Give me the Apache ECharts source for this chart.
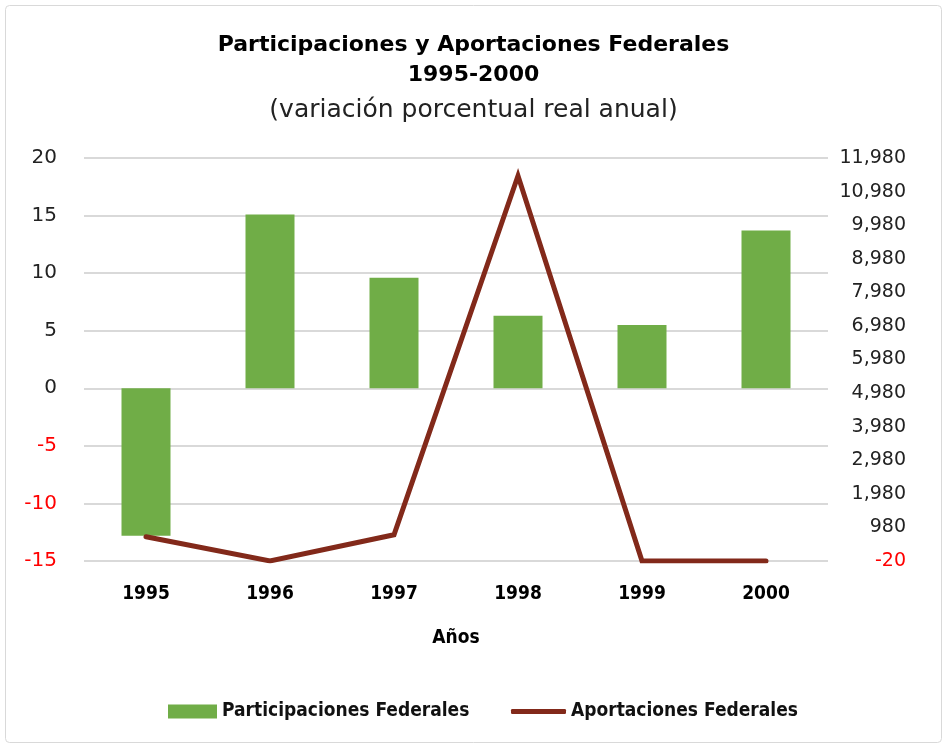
<!DOCTYPE html>
<html><head><meta charset="utf-8">
<script src="https://cdn.jsdelivr.net/npm/echarts@6/dist/echarts.min.js"></script>
<style>html,body{margin:0;padding:0;background:#fff}#c{width:947px;height:749px}</style>
</head><body><div id="c"></div>
<script>
const years = ['1995','1996','1997','1998','1999','2000'];
const participaciones = [-12.8, 15.1, 9.6, 6.3, 5.5, 13.7];
const aportaciones = [700, -20, 760, 11450, -20, -20];
const leftTicks = {min: -15, max: 20, interval: 5};
const rightTicks = {min: -20, max: 11980, interval: 1000};

const chart = echarts.init(document.getElementById('c'));
const fam = '"DejaVu Sans", sans-serif';
const cond = '"DejaVu Sans Condensed", "Liberation Sans Narrow", sans-serif';
const legText = {fontFamily: cond, fontWeight: 'bold', fontSize: 19, color: '#111'};
chart.setOption({
  animation: false,
  backgroundColor: '#fff',
  graphic: [{type:'rect', shape:{x:5.5,y:5.5,width:936,height:737,r:4}, style:{fill:'none', stroke:'#d9d9d9', lineWidth:1}, z:-1}],
  title: [
    {text: 'Participaciones y Aportaciones Federales\n1995-2000', left: 'center', top: 25,
     textStyle: {fontFamily: fam, fontWeight: 'bold', fontSize: 22, lineHeight: 30, color: '#000'}},
    {text: '(variación porcentual real anual)', left: 'center', top: 93,
     textStyle: {fontFamily: fam, fontWeight: 'normal', fontSize: 25, color: '#222'}}
  ],
  legend: [
    {left: 163, top: 697, itemWidth: 49, itemHeight: 14, textStyle: legText,
     data: [{name: 'Participaciones Federales', icon: 'rect'}]},
    {left: 506, top: 697, itemWidth: 55, itemHeight: 5, textStyle: legText,
     data: [{name: 'Aportaciones Federales', icon: 'roundRect'}]}
  ],
  grid: {left: 84, right: 119, top: 158, bottom: 188, containLabel: false},
  xAxis: {
    type: 'category', data: years,
    name: 'Años', nameLocation: 'middle', nameGap: 68,
    nameTextStyle: {fontFamily: cond, fontWeight: 'bold', fontSize: 19, color: '#000'},
    axisLine: {show: false}, axisTick: {show: false},
    axisLabel: {fontFamily: cond, fontWeight: 'bold', fontSize: 19, color: '#000', margin: 24}
  },
  yAxis: [
    {type: 'value', min: leftTicks.min, max: leftTicks.max, interval: leftTicks.interval,
     axisLine: {show: false}, axisTick: {show: false},
     splitLine: {lineStyle: {color: '#d9d9d9', width: 2}},
     axisLabel: {fontFamily: fam, fontSize: 20, margin: 27,
       color: v => v < 0 ? '#ff0000' : '#222'}},
    {type: 'value', min: rightTicks.min, max: rightTicks.max, interval: rightTicks.interval,
     axisLine: {show: false}, axisTick: {show: false}, splitLine: {show: false},
     axisLabel: {fontFamily: fam, fontSize: 19, margin: 78, align: 'right',
       formatter: v => v.toLocaleString('en-US'),
       color: v => v < 0 ? '#ff0000' : '#222'}}
  ],
  series: [
    {name: 'Participaciones Federales', type: 'bar', data: participaciones, yAxisIndex: 0,
     barWidth: 49, itemStyle: {color: '#70ad47'}},
    {name: 'Aportaciones Federales', type: 'line', data: aportaciones, yAxisIndex: 1,
     symbol: 'none', lineStyle: {color: '#82291a', width: 5, cap: 'round', join: 'miter'},
     itemStyle: {color: '#82291a'}}
  ]
});
</script>
</body></html>
